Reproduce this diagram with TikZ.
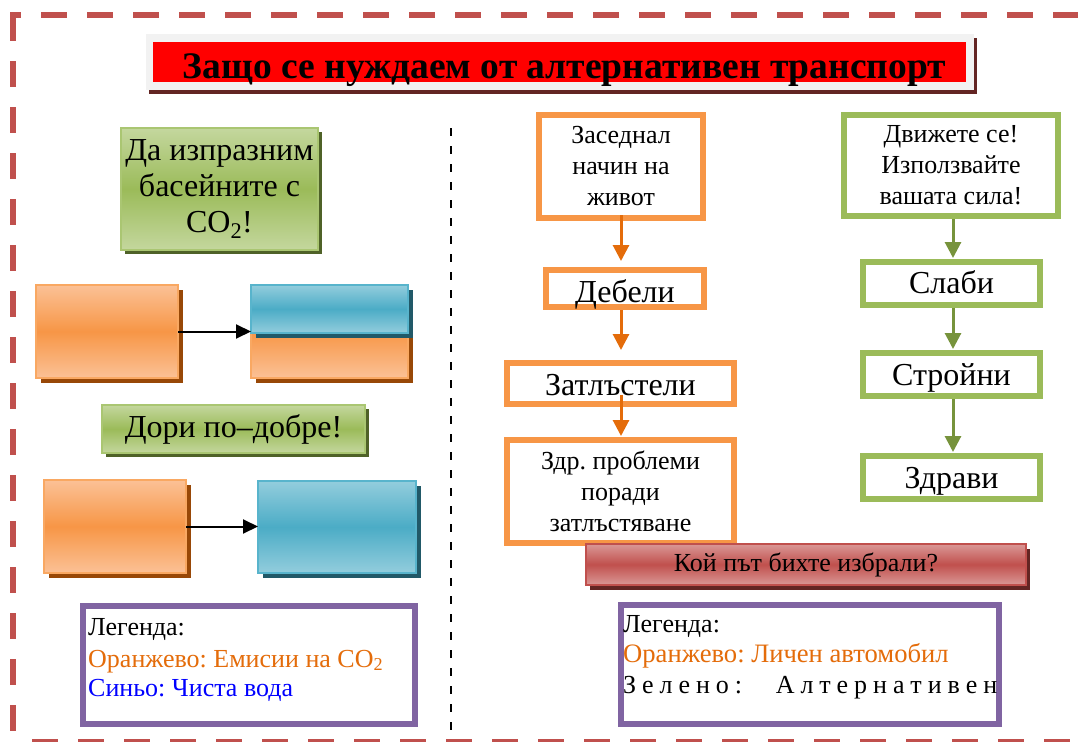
\documentclass[tikz,border=0pt]{standalone}
\usepackage{fontspec}
\setmainfont{Liberation Serif}
\frenchspacing
\usetikzlibrary{arrows.meta,shadows,calc}
\definecolor{orM}{HTML}{F79646}
\definecolor{orL}{HTML}{FBC196}
\definecolor{orB}{HTML}{F9A862}
\definecolor{orS}{HTML}{984807}
\definecolor{blM}{HTML}{4BACC6}
\definecolor{blL}{HTML}{93CDDD}
\definecolor{blB}{HTML}{58B4CC}
\definecolor{blS}{HTML}{215968}
\definecolor{grM}{HTML}{9BBB59}
\definecolor{grL}{HTML}{C4D79E}
\definecolor{grB}{HTML}{AAC672}
\definecolor{grS}{HTML}{4F6228}
\definecolor{rdM}{HTML}{C0504D}
\definecolor{rdL}{HTML}{DA9896}
\definecolor{rdS}{HTML}{632523}
\definecolor{purp}{HTML}{8064A2}
\definecolor{arrOr}{HTML}{E46C0A}
\definecolor{arrGr}{HTML}{77933C}
\definecolor{legOr}{HTML}{E46C0A}
\definecolor{greyT}{HTML}{F2F2F2}
\definecolor{borderRed}{HTML}{C0504D}
\newcommand{\smallf}{\fontsize{26bp}{31bp}\selectfont}
\newcommand{\largef}{\fontsize{32bp}{36bp}\selectfont}
\tikzset{
  box/.style={rectangle, inner sep=0pt, outer sep=0pt},
  orgrad/.style={box, top color=orL, bottom color=orL, middle color=orM, draw=orB, line width=1.2bp,
    drop shadow={fill=orS, opacity=1, shadow xshift=5bp, shadow yshift=-5bp}},
  blgrad/.style={box, top color=blL, bottom color=blL, middle color=blM, draw=blB, line width=1.2bp,
    drop shadow={fill=blS, opacity=1, shadow xshift=5bp, shadow yshift=-5bp}},
  grgrad/.style={box, top color=grL, bottom color=grL, middle color=grM, draw=grB, line width=1.2bp,
    drop shadow={fill=grS, opacity=1, shadow xshift=4bp, shadow yshift=-4bp}, font=\largef, align=center},
  rdgrad/.style={box, top color=rdL, bottom color=rdL, middle color=rdM, draw=rdM, line width=1.5bp,
    drop shadow={fill=rdS, opacity=1, shadow xshift=4bp, shadow yshift=-5bp}, font=\smallf},
  orflow/.style={box, draw=orM, fill=white, line width=6bp, align=center},
  grflow/.style={box, draw=grM, fill=white, line width=6bp, align=center},
  legbox/.style={box, draw=purp, fill=white, line width=6bp},
  orarrow/.style={draw=arrOr, line width=3bp, -{Triangle[length=16bp,width=16bp]}},
  grarrow/.style={draw=arrGr, line width=3bp, -{Triangle[length=16bp,width=16bp]}},
  blackarrow/.style={draw=black, line width=2bp, -{Triangle[length=15bp,width=14bp]}},
  legtext/.style={anchor=base west, inner sep=0pt, font=\smallf},
  btext/.style={anchor=base, inner sep=0pt},
}
\begin{document}
\begin{tikzpicture}[x=1bp,y=-1bp]
\useasboundingbox (0,0) rectangle (1078,742);
% outer dashed frame
\draw[borderRed, line width=6bp, dash pattern=on 26bp off 20bp] (13,15) -- (13,745);
\draw[borderRed, line width=6bp, dash pattern=on 26bp off 20bp, dash phase=15bp] (10,15) -- (1085,15);
\draw[borderRed, line width=6bp, dash pattern=on 26bp off 20bp, dash phase=27bp] (13,742) -- (1085,742);
% title
\node[box, fill=greyT, minimum width=828bp, minimum height=56bp,
  drop shadow={fill=rdS, opacity=1, shadow xshift=3bp, shadow yshift=-4bp}] (tbg) at (560,62) {};
\node[box, fill=red, minimum width=813bp, minimum height=40bp] (title) at (559.5,62) {};
\node[btext, font=\fontsize{37.5bp}{42bp}\selectfont\bfseries] (titlet) at (564.5,79) {Защо се нуждаем от алтернативен транспорт};
% separator
\coordinate (sepTop) at (451,128);
\coordinate (sepBot) at (451,738);
\draw[black, line width=2bp, dash pattern=on 8bp off 10bp] (sepTop) -- (sepBot);
% left panel
\node[grgrad, minimum width=197bp, minimum height=122bp] (g1) at (219.5,189) {Да изпразним\\басейните с\\CO\textsubscript{2}!};
\node[orgrad, minimum width=142bp, minimum height=93bp] (o1) at (107,331.5) {};
\node[orgrad, minimum width=157bp, minimum height=93bp] (o1r) at (329.5,331.5) {};
\node[blgrad, minimum width=157bp, minimum height=48bp] (b1) at (329.5,309) {};
\draw[blackarrow] (o1.east) -- (o1.east -| b1.west);
\node[grgrad, minimum width=263bp, minimum height=48bp] (g2) at (233.5,429) {Дори по–добре!};
\node[orgrad, minimum width=142bp, minimum height=93bp] (o2) at (115,526.5) {};
\node[blgrad, minimum width=158bp, minimum height=92bp] (b2) at (337,527) {};
\draw[blackarrow] (o2.east) -- (o2.east -| b2.west);
\node[legbox, minimum width=332bp, minimum height=118bp] (legL) at (249,665) {};
\node[legtext] (legL1) at (88,635) {Легенда:};
\node[legtext, text=legOr] (legL2) at (88,667) {Оранжево: Емисии на CO\textsubscript{2}};
\node[legtext, text=blue] (legL3) at (88,696) {Синьо: Чиста вода};
% right panel orange flow
\node[orflow, minimum width=164bp, minimum height=103bp, font=\smallf] (fa) at (621,166.5) {Заседнал\\начин на\\живот};
\node[orflow, minimum width=158bp, minimum height=37bp] (fb) at (625,288.5) {};
\node[btext, font=\largef] (fbt) at (625,302) {Дебели};
\node[orflow, minimum width=227bp, minimum height=41bp] (fc) at (620.5,383.5) {};
\node[btext, font=\largef] (fct) at (620.5,395) {Затлъстели};
\node[orflow, minimum width=227bp, minimum height=103bp, font=\smallf] (fd) at (620.5,491.5) {Здр. проблеми\\поради\\затлъстяване};
\draw[orarrow, shorten >=6bp] ($(fa.south)+(0,-3)$) -- ($(fa.south |- fb.north)+(0,-3)$);
\draw[orarrow, shorten >=10bp] ($(fa.south |- fb.south)+(0,3)$) -- ($(fa.south |- fc.north)+(0,-3)$);
\draw[orarrow, shorten >=1bp] ($(fa.south |- fc.south)+(0,-9)$) -- ($(fa.south |- fd.north)+(0,-3)$);
% right panel green flow
\node[grflow, minimum width=214bp, minimum height=101bp, font=\smallf] (ga) at (951,165.5) {Движете се!\\Използвайте\\вашата сила!};
\node[grflow, minimum width=177bp, minimum height=43bp] (gb) at (951.5,283.5) {};
\node[btext, font=\largef] (gbt) at (951.5,293) {Слаби};
\node[grflow, minimum width=177bp, minimum height=43bp] (gc) at (951.5,374.5) {};
\node[btext, font=\largef] (gct) at (951.5,385) {Стройни};
\node[grflow, minimum width=177bp, minimum height=43bp] (gd) at (951.5,477.5) {};
\node[btext, font=\largef] (gdt) at (951.5,488) {Здрави};
\draw[grarrow, shorten >=1bp] ($(ga.south)+(2,3)$) -- ($(ga.south |- gb.north)+(2,-3)$);
\draw[grarrow, shorten >=1bp] ($(ga.south |- gb.south)+(2,3)$) -- ($(ga.south |- gc.north)+(2,-3)$);
\draw[grarrow, shorten >=1bp] ($(ga.south |- gc.south)+(2,3)$) -- ($(ga.south |- gd.north)+(2,-3)$);
% question box
\node[rdgrad, minimum width=440bp, minimum height=41bp] (q) at (806,564.5) {Кой път бихте избрали?};
% right legend
\node[legbox, minimum width=378bp, minimum height=119bp] (legR) at (810,664.5) {};
\node[legtext] (legR1) at (623,632) {Легенда:};
\node[legtext, text=legOr, font=\fontsize{26.6bp}{31bp}\selectfont] (legR2) at (623,662) {Оранжево: Личен автомобил};
\node[legtext] (legR3) at (623,693) {\makebox[374bp][s]{З\hfill е\hfill л\hfill е\hfill н\hfill о\hfill :\hfill\hspace{22bp}\hfill А\hfill л\hfill т\hfill е\hfill р\hfill н\hfill а\hfill т\hfill и\hfill в\hfill е\hfill н}};
\end{tikzpicture}
\end{document}
